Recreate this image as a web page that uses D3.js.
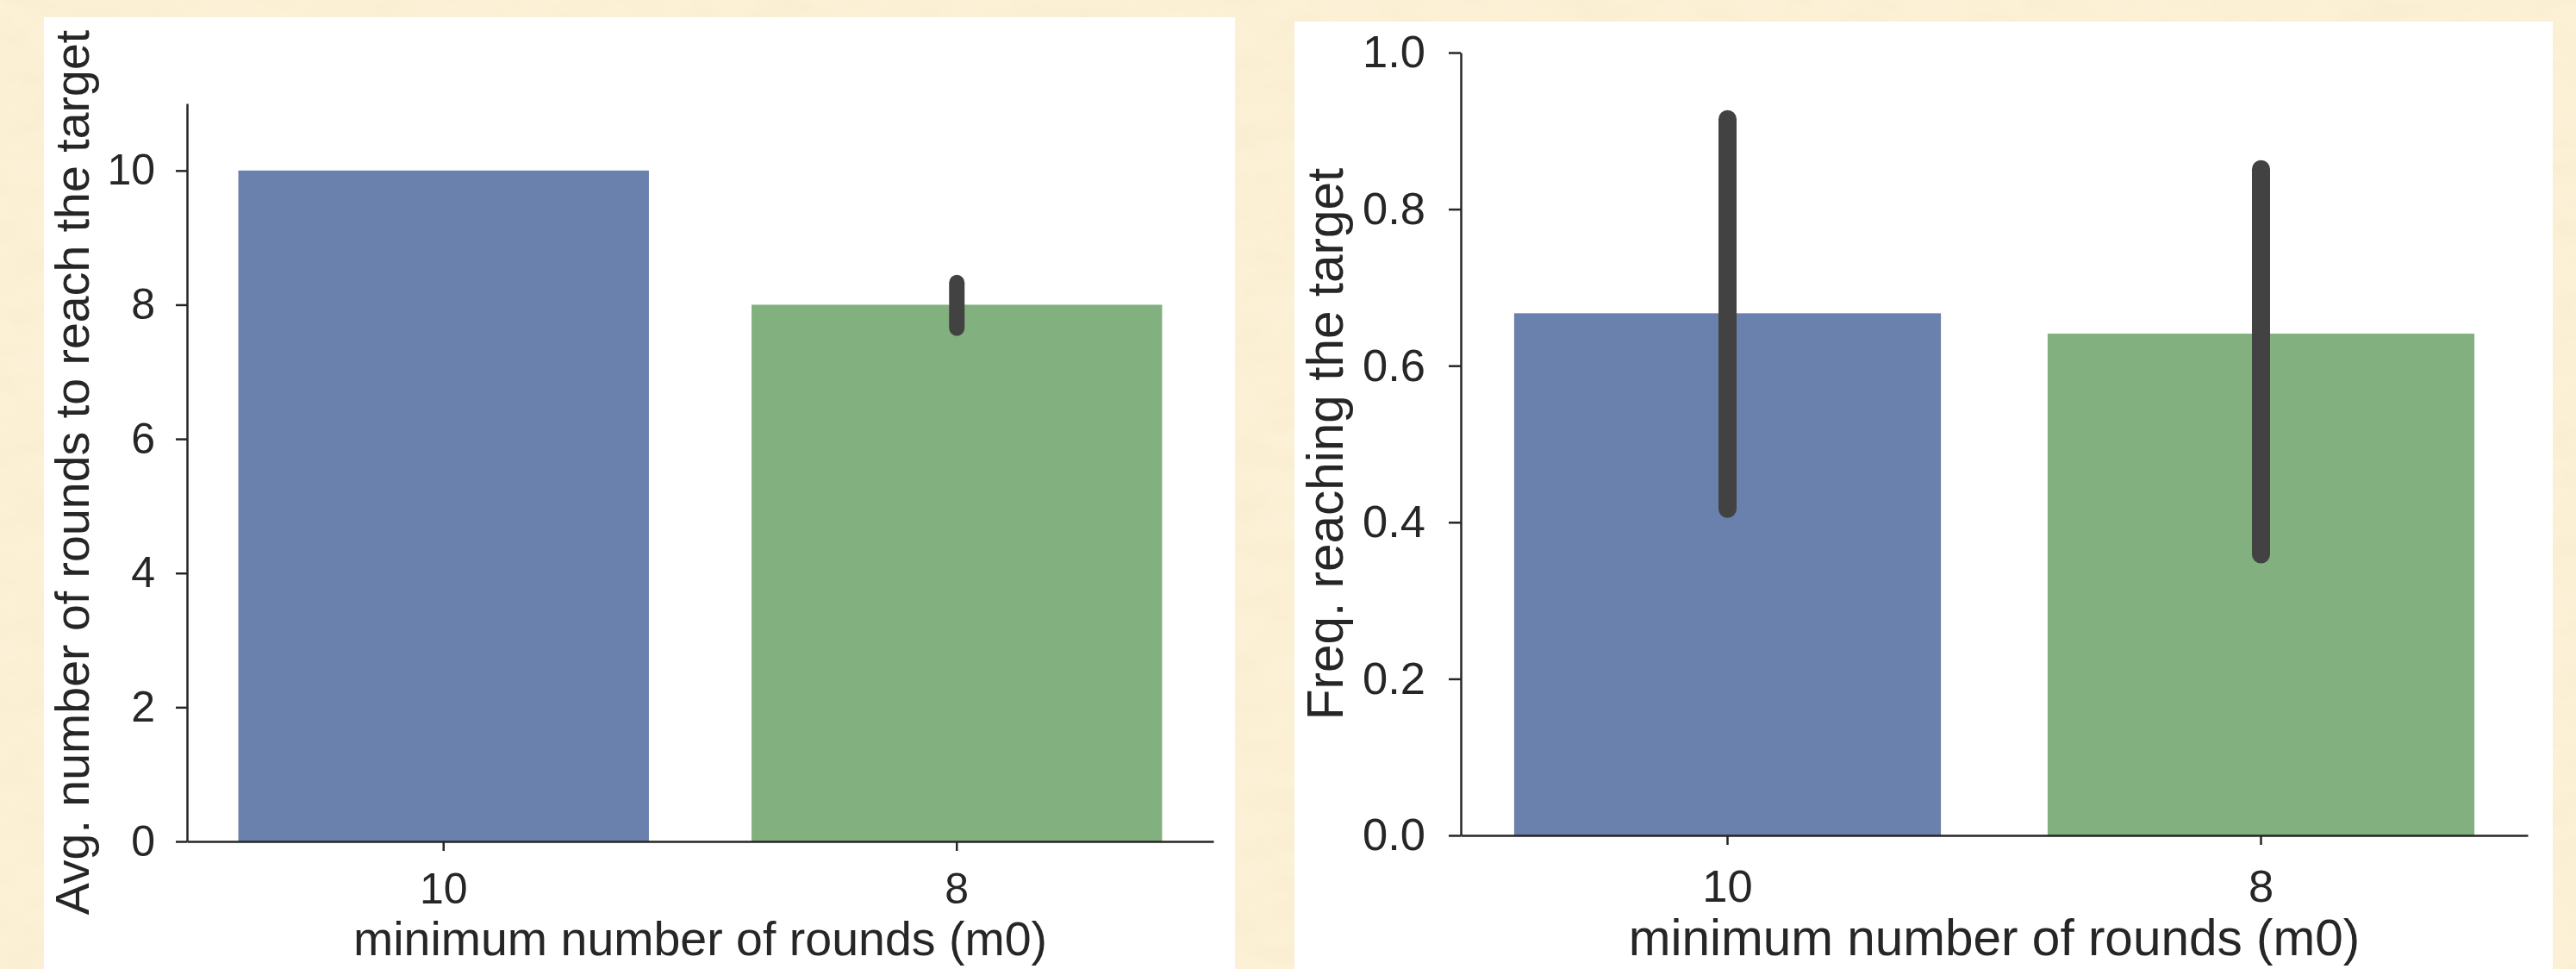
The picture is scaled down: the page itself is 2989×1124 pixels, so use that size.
<!DOCTYPE html>
<html>
<head>
<meta charset="utf-8">
<script src="https://cdn.jsdelivr.net/npm/d3@7"></script>
<style>
  body { margin: 0; background: #fbefd4; }
  svg { display: block; }
  text { font-family: "Liberation Sans", Arial, sans-serif; fill: #262626; }
</style>
</head>
<body>
<div id="chart"></div>
<script>
// data
const categories = ["10", "8"];
const colors = ["#6a80ad", "#82b17f"];

// left: average rounds to reach the target
const roundsMean = [10, 8];
const roundsLow = [null, 7.65];
const roundsHigh = [null, 8.33];
const roundsTicks = [0, 2, 4, 6, 8, 10];

// right: frequency of reaching the target
const freqMean = [0.667, 0.641];
const freqLow = [0.417, 0.359];
const freqHigh = [0.915, 0.851];
const freqTicks = [0, 0.2, 0.4, 0.6, 0.8, 1.0];

const W = 2989, H = 1124;

const svg = d3.select('#chart').append('svg').attr('width', W).attr('height', H);

// parchment background
const defs = svg.append('defs');
const f = defs.append('filter').attr('id', 'paper').attr('x', 0).attr('y', 0).attr('width', '100%').attr('height', '100%');
f.append('feTurbulence').attr('type', 'fractalNoise').attr('baseFrequency', '0.015 0.035').attr('numOctaves', 4).attr('seed', 7);
f.append('feColorMatrix').attr('type', 'matrix')
    .attr('values', '0 0 0 0 0.93  0 0 0 0 0.82  0 0 0 0 0.60  0 0 0 0.9 -0.25');
svg.append('rect').attr('width', W).attr('height', H).attr('fill', '#fcf1d6');
svg.append('rect').attr('width', W).attr('height', H).attr('filter', 'url(#paper)').attr('opacity', 0.8);

function panel(p) {
    svg.append('rect')
        .attr('x', p.box[0]).attr('y', p.box[1])
        .attr('width', p.box[2] - p.box[0]).attr('height', p.box[3] - p.box[1])
        .attr('fill', '#ffffff');

    const x = d3.scaleBand().domain(categories).range(p.xr).paddingInner(0.2).paddingOuter(0.1);
    const y = d3.scaleLinear().domain(p.yd).range(p.yr);
    const g = svg.append('g');

    g.selectAll('rect.bar').data(categories).join('rect')
        .attr('class', 'bar')
        .attr('x', d => x(d))
        .attr('width', x.bandwidth())
        .attr('y', (d, i) => y(p.mean[i]))
        .attr('height', (d, i) => y(0) - y(p.mean[i]))
        .attr('fill', (d, i) => colors[i]);

    g.selectAll('line.err').data(categories.filter((d, i) => p.low[i] != null)).join('line')
        .attr('class', 'err')
        .attr('x1', d => x(d) + x.bandwidth() / 2)
        .attr('x2', d => x(d) + x.bandwidth() / 2)
        .attr('y1', d => y(p.low[categories.indexOf(d)]))
        .attr('y2', d => y(p.high[categories.indexOf(d)]))
        .attr('stroke', '#424242')
        .attr('stroke-width', p.errW)
        .attr('stroke-linecap', 'round');

    const yAxis = g.append('g').attr('transform', `translate(${p.xr[0]},0)`)
        .call(d3.axisLeft(y).tickValues(p.ticks).tickFormat(p.fmt)
            .tickSize(p.tick).tickSizeOuter(0).tickPadding(p.yPad));
    const xAxis = g.append('g').attr('transform', `translate(0,${p.yr[0]})`)
        .call(d3.axisBottom(x).tickSize(11).tickSizeOuter(0).tickPadding(p.xPad));

    [yAxis, xAxis].forEach(a => {
        a.select('.domain').attr('stroke', '#262626').attr('stroke-width', 2.5);
        a.selectAll('.tick line').attr('stroke', '#262626').attr('stroke-width', 2.5);
        a.selectAll('.tick text').attr('font-size', p.tickFont).attr('fill', '#262626');
    });

    g.append('text')
        .attr('x', (p.xr[0] + p.xr[1]) / 2).attr('y', 1108)
        .attr('text-anchor', 'middle').attr('font-size', p.labelFont)
        .text('minimum number of rounds (m0)');

    g.append('text')
        .attr('transform', `translate(${p.yLabelX},${(p.yr[0] + p.yr[1]) / 2}) rotate(-90)`)
        .attr('text-anchor', 'middle').attr('font-size', p.labelFont)
        .text(p.yLabel);
}

panel({
    box: [51, 20, 1433, H],
    xr: [217, 1408], yr: [976, 120], yd: [0, 11],
    mean: roundsMean, low: roundsLow, high: roundsHigh,
    ticks: roundsTicks, fmt: d3.format('d'),
    tick: 13, yPad: 24, xPad: 25, errW: 18,
    tickFont: 50, labelFont: 55.5, yLabelX: 103,
    yLabel: 'Avg. number of rounds to reach the target'
});

panel({
    box: [1502, 25, 2962, H],
    xr: [1695, 2933], yr: [969, 61], yd: [0, 1],
    mean: freqMean, low: freqLow, high: freqHigh,
    ticks: freqTicks, fmt: d3.format('.1f'),
    tick: 14, yPad: 27, xPad: 29, errW: 21,
    tickFont: 52.5, labelFont: 58.5, yLabelX: 1558,
    yLabel: 'Freq. reaching the target'
});
</script>
</body>
</html>
